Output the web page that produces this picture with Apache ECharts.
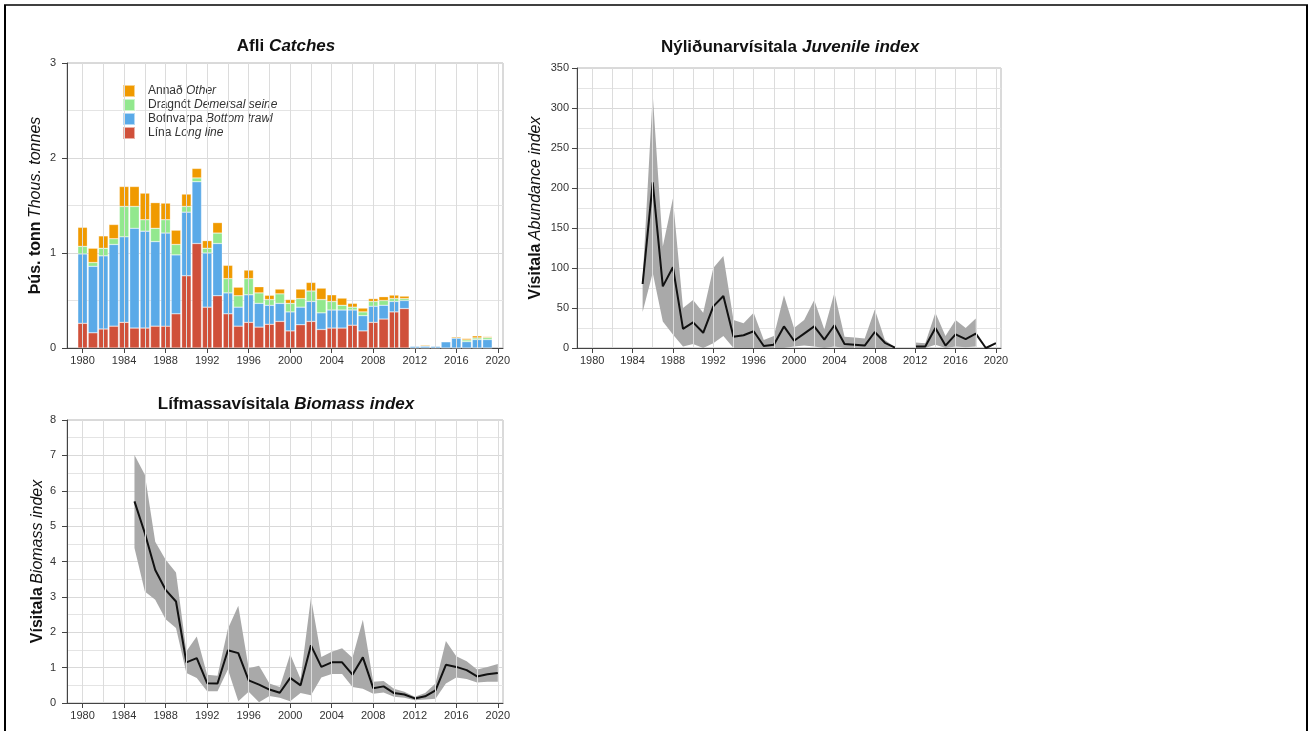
<!DOCTYPE html>
<html>
<head>
<meta charset="utf-8">
<script src="https://cdn.jsdelivr.net/npm/echarts@6/dist/echarts.min.js"></script>
<style>
  html, body { margin: 0; padding: 0; background: #fff; }
  #main { width: 1314px; height: 731px; }
</style>
</head>
<body>
<div id="main"></div>
<script>
// ---- data ----
// x axis runs 1979..2020 (one slot per year)
var axisYears = [1979,1980,1981,1982,1983,1984,1985,1986,1987,1988,1989,1990,1991,1992,1993,1994,1995,1996,1997,1998,1999,
                 2000,2001,2002,2003,2004,2005,2006,2007,2008,2009,2010,2011,2012,2013,2014,2015,2016,2017,2018,2019,2020];
var labelYears = [1980,1984,1988,1992,1996,2000,2004,2008,2012,2016,2020];
var gridYears  = [1980,1982,1984,1986,1988,1990,1992,1994,1996,1998,2000,2002,2004,2006,2008,2010,2012,2014,2016,2018,2020];

var catchYears = [1980,1981,1982,1983,1984,1985,1986,1987,1988,1989,1990,1991,1992,1993,1994,1995,1996,1997,1998,1999,
                  2000,2001,2002,2003,2004,2005,2006,2007,2008,2009,2010,2011,2012,2013,2014,2015,2016,2017,2018,2019];
// thous. tonnes per gear
var lina      = [0.26,0.16,0.20,0.23,0.27,0.21,0.21,0.23,0.23,0.36,0.76,1.10,0.43,0.55,0.36,0.23,0.27,0.22,0.25,0.28,
                 0.18,0.245,0.28,0.195,0.21,0.21,0.24,0.18,0.27,0.305,0.38,0.415,0,0,0,0,0,0,0,0];
var botnvarpa = [0.73,0.70,0.77,0.86,0.90,1.05,1.02,0.89,0.98,0.62,0.67,0.65,0.57,0.55,0.22,0.20,0.29,0.25,0.20,0.19,
                 0.20,0.185,0.21,0.175,0.19,0.19,0.16,0.16,0.17,0.145,0.11,0.085,0.02,0.02,0.02,0.065,0.105,0.067,0.089,0.089];
var dragnot   = [0.08,0.04,0.08,0.06,0.32,0.23,0.12,0.14,0.14,0.11,0.06,0.04,0.05,0.11,0.15,0.12,0.17,0.11,0.06,0.10,
                 0.09,0.09,0.11,0.14,0.09,0.05,0.03,0.04,0.05,0.05,0.03,0.02,0,0,0,0.005,0,0.018,0.017,0.021];
var annad     = [0.20,0.15,0.13,0.15,0.21,0.21,0.28,0.27,0.175,0.15,0.13,0.10,0.08,0.11,0.14,0.09,0.09,0.065,0.045,0.05,
                 0.04,0.10,0.09,0.12,0.07,0.075,0.04,0.04,0.03,0.04,0.037,0.026,0,0.01,0,0,0.012,0.015,0.022,0.01];

var surveyYears = [1985,1986,1987,1988,1989,1990,1991,1992,1993,1994,1995,1996,1997,1998,1999,2000,2001,2002,
                   2003,2004,2005,2006,2007,2008,2009,2010,2011,2012,2013,2014,2015,2016,2017,2018,2019,2020];
var juvIndex = [80,207,77,101,24,32,19,52,65,14,16,21,2.5,4,27,9,18,27,10.5,28.5,5,4,3,20,6.5,0.5,null,2,2,25,3,17,11,18,0,6];
var juvUpper = [85,317,127,187,50,60,44,100,115,35,31,44,10,15,66,25,35,60,23,69,14,13,12,48,10,1,null,7,6,44,15,35,25,37,null,null];
var juvLower = [45,94,33,17,2,5,0,6,15,0,0,0,0,0,0,2,3,2,0,2,0,0,0,0,0,0,null,0,0,4,0,2,1,2,null,null];

var bioIndex = [5.7,4.8,3.76,3.2,2.87,1.15,1.27,0.56,0.55,1.49,1.41,0.64,0.52,0.38,0.29,0.71,0.5,1.63,
                1.02,1.15,1.15,0.8,1.29,0.42,0.47,0.28,0.24,0.13,0.19,0.36,1.08,1.02,0.93,0.75,0.81,0.85];
var bioUpper = [7.01,6.45,4.56,4.05,3.69,1.46,1.88,0.8,0.77,2.1,2.75,0.98,1.05,0.55,0.45,1.38,0.68,2.98,
                1.3,1.45,1.55,1.28,2.35,0.6,0.62,0.4,0.32,0.18,0.28,0.55,1.75,1.32,1.18,0.95,1.02,1.1];
var bioLower = [4.38,3.15,2.92,2.37,2.12,0.85,0.71,0.33,0.33,0.95,0.05,0.32,0.02,0.2,0.15,0.05,0.28,0.22,
                0.72,0.82,0.82,0.45,0.4,0.26,0.3,0.18,0.15,0.08,0.1,0.12,0.55,0.72,0.68,0.58,0.6,0.6];

var gearNames = ['Lína','Botnvarpa','Dragnót','Annað'];
var gearEng   = {'Lína':'Long line','Botnvarpa':'Bottom trawl','Dragnót':'Demersal seine','Annað':'Other'};
var gearColors = ['#d0503a','#5aaae8','#92e88e','#f09a00'];

// ---- helpers ----
var FONT = 'Liberation Sans, Arial, sans-serif';
var TXT = '#333';

// put a series onto the 1979..2020 axis slots
function onAxis(years, vals) {
  return axisYears.map(function (y) {
    var i = years.indexOf(y);
    return (i < 0 || vals[i] == null) ? '-' : vals[i];
  });
}
function diff(a, b) {
  return a.map(function (v, i) { return (v == null || b[i] == null) ? null : +(v - b[i]).toFixed(3); });
}
var richTitle = {
  b: { fontFamily: FONT, fontSize: 17, fontWeight: 'bold', color: '#111' },
  i: { fontFamily: FONT, fontSize: 17, fontStyle: 'italic', color: '#111' }
};
var richName = {
  b: { fontFamily: FONT, fontSize: 16, fontWeight: 'bold', color: '#111' },
  i: { fontFamily: FONT, fontSize: 16, fontStyle: 'italic', color: '#111' }
};

function xAx(gi) {
  return {
    gridIndex: gi, type: 'category', data: axisYears.map(String), boundaryGap: true,
    axisLine: { show: true, onZero: false, lineStyle: { color: '#444', width: 1 } },
    axisTick: {
      show: true, length: 5, alignWithLabel: true, lineStyle: { color: '#444' },
      interval: function (i, v) { return labelYears.indexOf(+v) >= 0; }
    },
    axisLabel: {
      color: TXT, fontSize: 11, fontFamily: FONT, margin: 7,
      interval: function (i, v) { return labelYears.indexOf(+v) >= 0; }
    },
    splitLine: { show: false }
  };
}
function yAx(gi, max, step, name, gap, margin) {
  return {
    gridIndex: gi, type: 'value', min: 0, max: max, interval: step,
    name: name, nameLocation: 'middle', nameGap: gap,
    nameTextStyle: { rich: richName },
    axisLine: { show: true, lineStyle: { color: '#444', width: 1 } },
    axisTick: { show: true, length: 5, lineStyle: { color: '#444' } },
    axisLabel: { color: TXT, fontSize: 11, fontFamily: FONT, margin: margin },
    splitLine: { show: true, lineStyle: { color: '#d9d9d9' } },
    minorTick: { show: false, splitNumber: 2 },
    minorSplitLine: { show: true, lineStyle: { color: '#e4e4e4' } }
  };
}
function gridLines(gi) {
  return {
    type: 'line', xAxisIndex: gi, yAxisIndex: gi, data: [], silent: true, z: 1,
    markLine: {
      silent: true, symbol: ['none', 'none'], animation: false,
      label: { show: false },
      lineStyle: { color: '#dcdcdc', width: 1, type: 'solid' },
      data: gridYears.map(function (y) { return { xAxis: String(y) }; })
    }
  };
}
function band(gi, years, lower, upper, key) {
  return [
    { type: 'line', xAxisIndex: gi, yAxisIndex: gi, stack: key, data: onAxis(years, lower),
      symbol: 'none', lineStyle: { opacity: 0 }, silent: true, z: 2 },
    { type: 'line', xAxisIndex: gi, yAxisIndex: gi, stack: key, data: onAxis(years, diff(upper, lower)),
      symbol: 'none', lineStyle: { opacity: 0 }, areaStyle: { color: '#a9a9a9', opacity: 1 }, silent: true, z: 2 }
  ];
}

var series = [gridLines(0), gridLines(1), gridLines(2)];
var gearData = [lina, botnvarpa, dragnot, annad];
gearNames.forEach(function (g, k) {
  series.push({
    name: g, type: 'bar', xAxisIndex: 0, yAxisIndex: 0, stack: 'catch', barWidth: 9.5,
    data: onAxis(catchYears, gearData[k]),
    itemStyle: { color: gearColors[k], borderColor: 'rgba(255,255,255,0.55)', borderWidth: 0.5 },
    z: 3
  });
});
series = series.concat(band(1, surveyYears, juvLower, juvUpper, 'juv'));
series.push({ type: 'line', xAxisIndex: 1, yAxisIndex: 1, data: onAxis(surveyYears, juvIndex), symbol: 'none',
  lineStyle: { color: '#111', width: 2 }, z: 4 });
series = series.concat(band(2, surveyYears, bioLower, bioUpper, 'bio'));
series.push({ type: 'line', xAxisIndex: 2, yAxisIndex: 2, data: onAxis(surveyYears, bioIndex), symbol: 'none',
  lineStyle: { color: '#111', width: 2 }, z: 4 });

var option = {
  animation: false,
  backgroundColor: '#fff',
  title: [
    { text: '{b|Afli} {i|Catches}', left: 281, top: 32, textAlign: 'center', textStyle: { rich: richTitle } },
    { text: '{b|Nýliðunarvísitala} {i|Juvenile index}', left: 785, top: 33, textAlign: 'center', textStyle: { rich: richTitle } },
    { text: '{b|Lífmassavísitala} {i|Biomass index}', left: 281, top: 390, textAlign: 'center', textStyle: { rich: richTitle } }
  ],
  legend: {
    data: ['Annað', 'Dragnót', 'Botnvarpa', 'Lína'],
    orient: 'vertical', left: 122, top: 84, padding: 0, itemWidth: 12, itemHeight: 12, itemGap: 0,
    icon: 'rect', selectedMode: false,
    formatter: function (n) { return '{n|' + n + '} {i|' + gearEng[n] + '}'; },
    textStyle: {
      color: TXT, fontSize: 12, fontFamily: FONT, lineHeight: 12, padding: [0, 0, 0, 8],
      rich: {
        n: { fontSize: 12, lineHeight: 12, fontFamily: FONT, color: TXT },
        i: { fontSize: 12, lineHeight: 12, fontFamily: FONT, fontStyle: 'italic', color: TXT }
      }
    }
  },
  grid: [
    { left: 67, top: 63, width: 436, height: 285, show: true, borderColor: '#b5b5b5', borderWidth: 1 },
    { left: 577, top: 68, width: 424, height: 280, show: true, borderColor: '#b5b5b5', borderWidth: 1 },
    { left: 67, top: 420, width: 436, height: 283, show: true, borderColor: '#b5b5b5', borderWidth: 1 }
  ],
  xAxis: [xAx(0), xAx(1), xAx(2)],
  yAxis: [
    yAx(0, 3, 1, '{b|Þús. tonn} {i|Thous. tonnes}', 23, 11),
    yAx(1, 350, 50, '{b|Vísitala} {i|Abundance index}', 33, 8),
    yAx(2, 8, 1, '{b|Vísitala} {i|Biomass index}', 21, 11)
  ],
  graphic: [
    { type: 'line', shape: { x1: 5, y1: 5, x2: 5, y2: 731 }, style: { stroke: '#000', lineWidth: 2 } },
    { type: 'line', shape: { x1: 4, y1: 5, x2: 1308, y2: 5 }, style: { stroke: '#000', lineWidth: 1.5 } },
    { type: 'line', shape: { x1: 1307, y1: 5, x2: 1307, y2: 731 }, style: { stroke: '#000', lineWidth: 2 } }
  ],
  series: series
};

var chart = echarts.init(document.getElementById('main'), null, { renderer: 'canvas' });
chart.setOption(option);
</script>
</body>
</html>
